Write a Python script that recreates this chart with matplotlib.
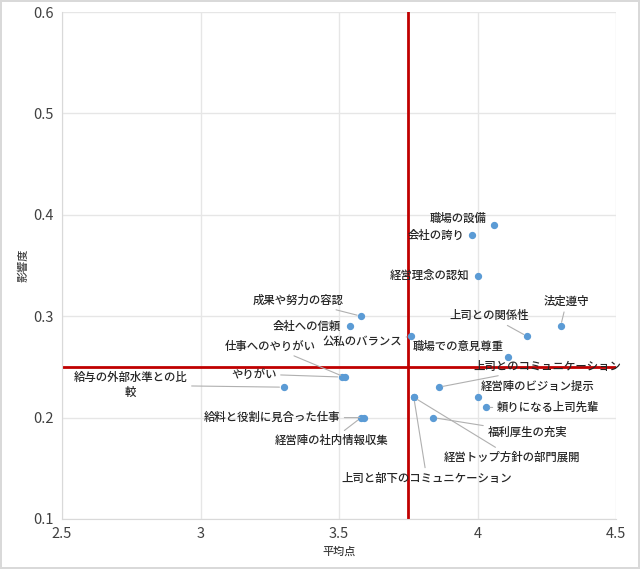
import matplotlib
matplotlib.use('Agg')
import matplotlib.pyplot as plt

plt.rcParams['font.family'] = ['Noto Sans CJK JP', 'DejaVu Sans']

labels = ['職場の設備', '会社の誇り', '経営理念の認知', '法定遵守', '上司との関係性',
          '公私のバランス', '職場での意見尊重', '上司とのコミュニケーション',
          '経営陣のビジョン提示', '頼りになる上司先輩', '福利厚生の充実',
          '経営トップ方針の部門展開', '上司と部下のコミュニケーション',
          '会社への信頼', '成果や努力の容認', '仕事へのやりがい', 'やりがい',
          '給与の外部水準との比\n較', '給料と役割に見合った仕事', '経営陣の社内情報収集']
avg_score = [4.06, 3.98, 4.00, 4.30, 4.18,
             3.76, 4.11, 3.86,
             4.00, 4.03, 3.84,
             3.77, 3.77,
             3.54, 3.58, 3.52, 3.51,
             3.30, 3.59, 3.58]
influence = [0.39, 0.38, 0.34, 0.29, 0.28,
             0.28, 0.26, 0.23,
             0.22, 0.21, 0.20,
             0.22, 0.22,
             0.29, 0.30, 0.24, 0.24,
             0.23, 0.20, 0.20]
avg_line = 3.75
inf_line = 0.25

# label offsets in pixels (dx, dy, ha, connector)
offsets = [(-8, 7, 'right', False), (-7, 0, 'right', False), (-8, 0, 'right', False),
           (6, 25, 'center', True), (-38, 21, 'center', True),
           (-9, -5, 'right', True), (-50, 10, 'center', False), (109, 21, 'center', True),
           (60, 11, 'center', False), (11, 0, 'left', True), (94, -15, 'center', True),
           (98, -60, 'center', True), (13, -81, 'center', True),
           (-9, 0, 'right', False), (-63, 16, 'center', True), (-74, 31, 'center', True),
           (-88, 3, 'center', True), (-153, 2, 'center', True), (-92, 0, 'center', True),
           (-30, -23, 'center', True)]

fig = plt.figure(figsize=(6.4, 5.69), dpi=100)
fig.patch.set_edgecolor('#d9d9d9')
fig.patch.set_linewidth(1.5)
ax = fig.add_axes([62 / 640, 50 / 569, 554 / 640, 507 / 569])

ax.set_xlim(2.5, 4.5)
ax.set_ylim(0.1, 0.6)
ax.set_xticks([2.5, 3, 3.5, 4, 4.5])
ax.set_xticklabels(['2.5', '3', '3.5', '4', '4.5'])
ax.set_yticks([0.1, 0.2, 0.3, 0.4, 0.5, 0.6])
ax.grid(True, color='#e6e6e6', lw=1)
ax.set_axisbelow(True)
ax.tick_params(length=0, labelsize=10.5, colors='#404040', pad=6)
for s in ['top', 'right']:
    ax.spines[s].set_visible(False)
for s in ['left', 'bottom']:
    ax.spines[s].set_color('#d9d9d9')

ax.axvline(avg_line, color='#c00000', lw=2, zorder=2)
ax.axhline(inf_line, color='#c00000', lw=2, zorder=2)

ax.scatter(avg_score, influence, s=18, color='#5b9bd5', zorder=3)

for lab, x, y, (dx, dy, ha, conn) in zip(labels, avg_score, influence, offsets):
    ap = dict(arrowstyle='-', color='#b0b0b0', lw=0.8, shrinkA=1, shrinkB=3) if conn else None
    ax.annotate(lab, (x, y), xytext=(dx, dy), textcoords='offset pixels',
                ha=ha, va='center', fontsize=8.2, fontweight='medium', color='#262626',
                multialignment='center', arrowprops=ap, zorder=4)

ax.set_xlabel('平均点', fontsize=8, fontweight='medium', color='#404040', labelpad=4)
ax.set_ylabel('影響度', fontsize=8, fontweight='medium', color='#404040', labelpad=3)

fig.savefig('out.png', dpi=100, edgecolor=fig.get_edgecolor())
